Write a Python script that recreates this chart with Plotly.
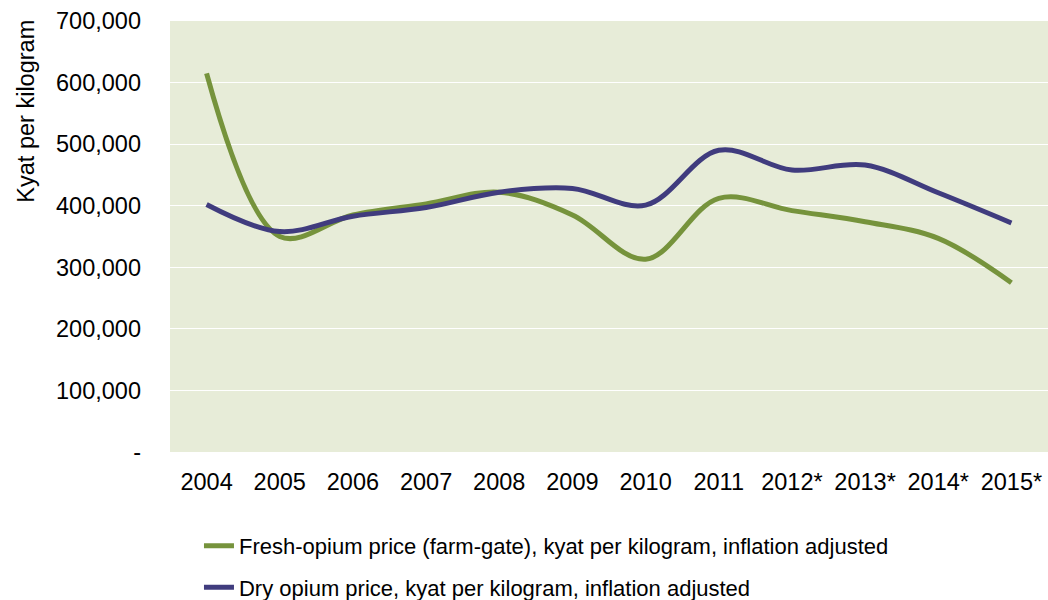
import plotly.graph_objects as go

years = ["2004", "2005", "2006", "2007", "2008", "2009", "2010", "2011", "2012*", "2013*", "2014*", "2015*"]
fresh_price = [615000, 350000, 385000, 403000, 422000, 385000, 313000, 412000, 392000, 374000, 347000, 275000]
dry_price = [402000, 358000, 383000, 397000, 422000, 428000, 401000, 490000, 458000, 466000, 421000, 372000]

y_tickvals = [0, 100000, 200000, 300000, 400000, 500000, 600000, 700000]
y_ticktext = ["-", "100,000", "200,000", "300,000", "400,000", "500,000", "600,000", "700,000"]
y_title = "Kyat per kilogram"

FONT = "Liberation Sans, Arial, sans-serif"

fig = go.Figure()
fig.add_trace(go.Scatter(
    x=years, y=fresh_price, mode="lines",
    line=dict(color="#76933C", width=5, shape="spline", smoothing=1),
    name="Fresh-opium price (farm-gate), kyat per kilogram, inflation adjusted",
    legendgroup="fresh",
))
fig.add_trace(go.Scatter(
    x=years, y=dry_price, mode="lines",
    line=dict(color="#403C7E", width=5, shape="spline", smoothing=1),
    name="Dry opium price, kyat per kilogram, inflation adjusted",
    legendgroup="dry",
))

fig.update_layout(
    width=1048, height=600,
    margin=dict(l=170, r=0, t=21, b=148, autoexpand=False),
    paper_bgcolor="white",
    plot_bgcolor="#E7ECD8",
    font=dict(family=FONT, size=23.5, color="#000000"),
    showlegend=True,
    legend=dict(
        orientation="v", x=0.033, xanchor="left", y=-0.169, yanchor="top",
        font=dict(family=FONT, size=22, color="#000000"),
        bgcolor="rgba(0,0,0,0)", itemwidth=30, tracegroupgap=10,
    ),
    xaxis=dict(
        type="category", showgrid=False, zeroline=False, showline=False,
        ticks="outside", ticklen=0, ticklabelstandoff=9, automargin=False,
        tickfont=dict(family=FONT, size=23.5),
        range=[-0.5, 11.5],
    ),
    yaxis=dict(
        range=[0, 700000], tickvals=y_tickvals, ticktext=y_ticktext,
        showgrid=True, gridcolor="#FFFFFF", gridwidth=1.3, zeroline=False, showline=False,
        ticks="", ticklabelstandoff=28, automargin=False,
        tickfont=dict(family=FONT, size=23.5),
    ),
    annotations=[dict(
        text=y_title, xref="paper", yref="paper", x=-0.165, y=0.79,
        xanchor="center", yanchor="middle", textangle=-90, showarrow=False,
        font=dict(family=FONT, size=23.5, color="#000000"),
    )],
)

fig.write_html(
    "out.html",
    config={"displayModeBar": False},
    post_script="document.body.style.margin='0';document.body.style.overflow='hidden';",
)
